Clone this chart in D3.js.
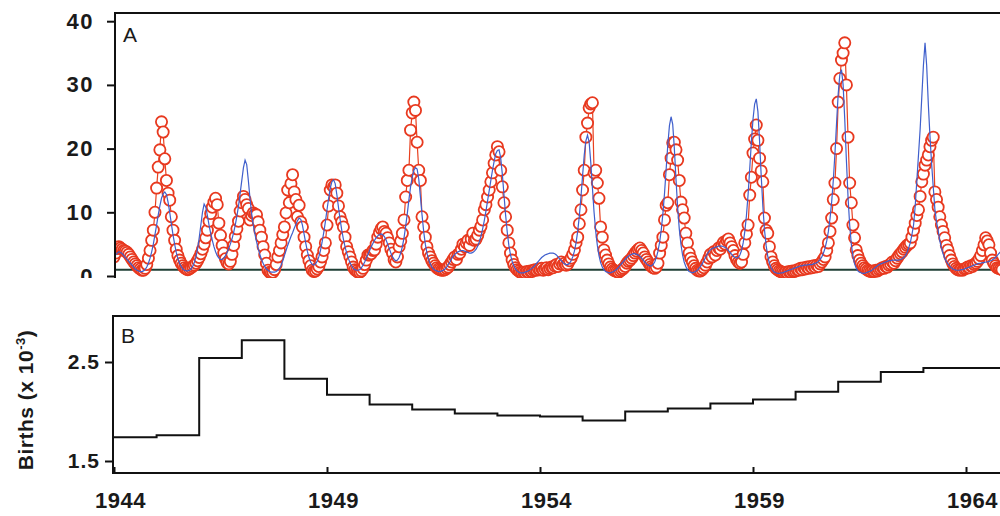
<!DOCTYPE html>
<html>
<head>
<meta charset="utf-8">
<script src="https://cdn.jsdelivr.net/npm/d3@7"></script>
<style>
  body { margin: 0; background: #fff; }
  svg text { font-family: "Liberation Sans", Arial, sans-serif; }
</style>
</head>
<body>
<svg id="chart" width="1000" height="516"></svg>
<script>
// years covered, one row of 26 biweekly values per year
const years = d3.range(1944, 1965);

const observed = [
  [3.0, 3.6, 4.3, 4.6, 4.4, 4.2, 4.0, 3.9, 3.7, 3.4, 3.0, 2.6, 2.2, 1.9, 1.6, 1.3, 1.1, 0.9, 0.9, 1.2, 1.8, 2.8, 4.0, 5.6, 7.2, 10.0],
  [13.8, 17.1, 19.8, 24.2, 22.6, 18.4, 15.0, 13.0, 11.9, 9.3, 7.2, 5.6, 4.2, 3.2, 2.5, 2.0, 1.6, 1.3, 1.1, 1.0, 1.1, 1.3, 1.5, 1.7, 2.0, 2.4],
  [2.9, 3.5, 4.2, 5.0, 6.0, 7.2, 8.6, 9.8, 10.8, 11.6, 12.2, 11.2, 8.3, 6.4, 4.8, 3.6, 2.7, 2.1, 1.9, 2.3, 3.4, 4.8, 6.2, 7.4, 8.6, 10.2],
  [11.5, 12.5, 12.0, 11.2, 10.6, 8.8, 9.5, 9.9, 9.7, 9.6, 8.5, 7.2, 6.1, 4.6, 3.3, 2.0, 0.9, 0.6, 0.5, 0.6, 1.0, 1.8, 3.0, 4.0, 5.2, 6.5],
  [7.7, 9.9, 13.5, 11.5, 14.5, 15.9, 13.2, 12.0, 9.3, 11.1, 8.5, 7.7, 6.1, 4.6, 3.3, 2.4, 1.6, 0.9, 0.7, 0.8, 1.1, 1.5, 2.2, 3.0, 4.0, 5.2],
  [8.0, 11.0, 13.5, 14.3, 14.0, 14.3, 13.0, 11.0, 9.3, 8.5, 7.7, 6.1, 4.6, 3.8, 3.0, 2.2, 1.4, 1.0, 0.8, 0.6, 0.6, 0.8, 1.2, 1.8, 2.5, 3.3],
  [3.3, 3.5, 4.0, 4.1, 5.0, 6.1, 6.8, 7.4, 7.7, 7.0, 6.7, 6.0, 5.2, 4.2, 3.6, 2.5, 2.2, 3.0, 4.6, 5.5, 6.7, 8.8, 12.4, 15.0, 16.6, 22.9],
  [25.6, 27.3, 26.0, 21.0, 16.6, 15.0, 9.3, 7.7, 6.1, 4.6, 3.6, 3.0, 2.4, 2.0, 1.6, 1.3, 1.1, 1.0, 0.9, 0.9, 1.0, 1.2, 1.4, 1.8, 2.2, 2.6],
  [3.0, 2.6, 3.4, 3.6, 4.2, 5.0, 4.6, 5.2, 5.6, 4.8, 5.8, 6.7, 5.6, 5.8, 6.4, 7.2, 7.8, 8.8, 10.4, 11.2, 12.4, 13.5, 14.8, 16.2, 17.7, 19.0],
  [20.3, 19.5, 16.6, 14.0, 11.5, 9.3, 7.2, 5.2, 3.6, 2.5, 1.8, 1.3, 1.0, 0.8, 0.6, 0.5, 0.6, 0.5, 0.7, 0.6, 0.8, 0.7, 0.9, 1.0, 0.9, 1.1],
  [1.0, 1.2, 0.9, 1.1, 1.3, 1.0, 1.2, 1.4, 1.3, 1.6, 1.8, 1.5, 1.9, 2.2, 1.8, 2.0, 1.7, 1.9, 2.4, 2.8, 3.4, 4.1, 5.2, 6.1, 8.2, 10.4],
  [13.5, 16.6, 21.8, 24.0, 26.4, 27.0, 27.2, 16.2, 16.6, 14.6, 12.2, 7.7, 6.1, 4.1, 3.3, 2.5, 1.9, 1.4, 1.1, 0.9, 0.8, 0.7, 0.6, 0.8, 1.0, 1.2],
  [1.5, 2.0, 2.3, 2.5, 2.8, 3.2, 3.6, 3.9, 4.2, 4.4, 4.0, 3.6, 3.0, 2.6, 2.2, 1.8, 1.5, 1.3, 1.2, 1.4, 2.0, 3.6, 4.8, 6.1, 8.8, 11.1],
  [11.5, 15.9, 18.5, 20.9, 21.0, 19.8, 18.2, 15.0, 11.6, 10.4, 9.1, 6.7, 5.2, 3.6, 2.8, 2.2, 1.6, 1.2, 0.9, 0.8, 0.8, 1.0, 1.3, 1.7, 2.2, 2.8],
  [3.4, 3.0, 3.8, 3.3, 4.0, 4.4, 4.2, 4.8, 5.3, 5.0, 5.6, 5.8, 5.2, 4.6, 4.0, 3.2, 2.6, 2.2, 2.0, 2.2, 3.4, 5.2, 6.6, 8.0, 12.7, 15.5],
  [19.3, 21.5, 23.7, 21.3, 18.5, 16.5, 14.8, 9.1, 7.2, 6.7, 4.6, 3.0, 2.2, 1.6, 1.2, 1.0, 0.8, 0.7, 0.6, 0.5, 0.6, 0.5, 0.7, 0.6, 0.8, 0.7],
  [0.8, 1.0, 0.9, 1.2, 1.0, 1.3, 1.1, 1.4, 1.2, 1.5, 1.3, 1.6, 1.4, 1.7, 1.5, 1.9, 2.2, 2.6, 3.0, 4.0, 5.2, 7.0, 9.1, 12.0, 14.6, 20.0],
  [27.3, 31.0, 33.9, 35.0, 36.6, 30.0, 21.8, 14.6, 11.5, 8.0, 6.0, 4.1, 3.2, 2.5, 2.0, 1.6, 1.3, 1.1, 0.9, 0.8, 0.7, 0.8, 0.7, 0.9, 0.8, 1.0],
  [1.1, 1.3, 1.2, 1.5, 1.4, 1.7, 1.9, 2.2, 2.0, 2.4, 2.8, 3.2, 3.5, 3.8, 4.2, 4.5, 4.8, 5.0, 5.2, 6.1, 7.2, 8.3, 9.5, 10.4, 12.5, 14.8],
  [16.0, 17.4, 18.2, 19.0, 20.3, 21.3, 21.8, 13.2, 12.0, 10.8, 9.3, 8.0, 7.0, 6.0, 4.8, 4.1, 3.2, 2.5, 1.9, 1.5, 1.2, 1.0, 0.9, 1.0, 0.9, 1.1],
  [1.2, 1.4, 1.3, 1.6, 1.5, 1.8, 2.0, 2.3, 2.7, 3.2, 4.0, 4.9, 6.0, 5.5, 4.9, 3.6, 2.5, 2.0, 1.6, 1.3, 1.2, 1.1, 1.0]
];

const model = [
  [3.0, 3.3, 3.6, 3.8, 3.7, 3.5, 3.2, 2.9, 2.6, 2.3, 2.0, 1.7, 1.4, 1.1, 0.9, 0.8, 0.7, 0.7, 0.8, 1.0, 1.4, 2.0, 2.8, 3.8, 5.0, 6.5],
  [8.0, 9.6, 11.0, 12.2, 12.9, 13.2, 12.8, 11.6, 10.0, 8.2, 6.5, 5.0, 3.7, 2.7, 2.0, 1.5, 1.1, 0.9, 0.8, 0.8, 0.9, 1.1, 1.5, 2.1, 3.0, 4.2],
  [6.0, 8.0, 10.0, 11.3, 10.8, 9.5, 8.0, 6.7, 5.6, 4.6, 3.8, 3.2, 2.8, 2.6, 2.6, 2.8, 3.2, 3.7, 4.3, 5.0, 5.8, 6.8, 8.0, 9.4, 11.0, 13.0],
  [15.0, 17.0, 18.2, 17.5, 15.0, 12.2, 9.8, 8.0, 6.6, 5.4, 4.3, 3.4, 2.6, 2.0, 1.5, 1.1, 0.9, 0.7, 0.6, 0.6, 0.6, 0.7, 0.9, 1.2, 1.7, 2.4],
  [3.2, 4.0, 4.8, 5.5, 6.2, 6.8, 7.5, 8.1, 8.7, 9.1, 8.9, 8.0, 6.6, 5.2, 3.9, 2.9, 2.2, 1.8, 1.7, 1.9, 2.3, 3.0, 4.0, 5.3, 6.8, 8.5],
  [10.4, 12.2, 13.8, 14.8, 15.1, 14.5, 12.8, 10.8, 8.9, 7.2, 5.8, 4.6, 3.6, 2.8, 2.1, 1.6, 1.2, 1.0, 0.9, 0.9, 1.0, 1.3, 1.7, 2.2, 2.8, 3.4],
  [4.0, 4.6, 5.1, 5.6, 6.0, 6.3, 6.5, 6.6, 6.5, 6.2, 5.7, 5.0, 4.3, 3.6, 3.0, 2.6, 2.4, 2.5, 2.9, 3.6, 4.6, 6.0, 7.8, 9.8, 12.0, 14.0],
  [15.5, 16.6, 17.0, 16.8, 15.2, 12.5, 9.6, 7.0, 5.0, 3.6, 2.6, 1.9, 1.4, 1.1, 0.9, 0.8, 0.7, 0.7, 0.8, 0.9, 1.1, 1.4, 1.8, 2.2, 2.7, 3.1],
  [3.4, 3.6, 3.8, 3.9, 4.0, 4.0, 3.9, 3.8, 3.7, 3.6, 3.6, 3.7, 3.9, 4.2, 4.7, 5.4, 6.3, 7.4, 8.7, 10.2, 11.8, 13.4, 15.0, 16.6, 18.0, 19.2],
  [19.7, 19.8, 18.6, 16.0, 12.8, 9.6, 6.9, 4.8, 3.3, 2.3, 1.6, 1.1, 0.8, 0.6, 0.5, 0.5, 0.5, 0.6, 0.7, 0.8, 1.0, 1.2, 1.4, 1.7, 2.0, 2.3],
  [2.6, 2.9, 3.1, 3.3, 3.4, 3.5, 3.6, 3.6, 3.6, 3.5, 3.3, 3.0, 2.7, 2.4, 2.1, 1.9, 1.8, 1.8, 2.0, 2.4, 3.0, 3.9, 5.2, 7.0, 9.4, 12.4],
  [15.8, 19.0, 21.2, 22.1, 21.0, 17.8, 13.8, 10.0, 7.0, 4.8, 3.2, 2.1, 1.4, 1.0, 0.7, 0.6, 0.5, 0.5, 0.6, 0.7, 0.9, 1.1, 1.4, 1.7, 2.0, 2.3],
  [2.6, 2.9, 3.1, 3.3, 3.4, 3.5, 3.5, 3.4, 3.3, 3.1, 2.8, 2.5, 2.2, 1.9, 1.7, 1.6, 1.6, 1.8, 2.2, 2.9, 3.9, 5.3, 7.2, 9.8, 13.0, 16.8],
  [20.6, 23.6, 25.0, 23.8, 20.0, 15.2, 10.8, 7.4, 5.0, 3.3, 2.2, 1.5, 1.0, 0.7, 0.6, 0.5, 0.6, 0.7, 0.9, 1.2, 1.5, 1.9, 2.4, 2.9, 3.4, 3.8],
  [4.1, 4.3, 4.4, 4.5, 4.6, 4.7, 4.7, 4.7, 4.6, 4.5, 4.3, 4.0, 3.7, 3.4, 3.1, 2.9, 2.8, 2.9, 3.3, 4.0, 5.2, 7.0, 9.5, 12.8, 16.8, 21.0],
  [24.6, 27.0, 27.8, 25.8, 21.2, 15.8, 11.0, 7.3, 4.8, 3.1, 2.0, 1.3, 0.9, 0.6, 0.5, 0.4, 0.4, 0.5, 0.5, 0.6, 0.7, 0.8, 0.9, 1.0, 1.1, 1.2],
  [1.3, 1.4, 1.5, 1.6, 1.6, 1.7, 1.7, 1.7, 1.8, 1.8, 1.8, 1.9, 2.0, 2.1, 2.3, 2.6, 3.0, 3.6, 4.4, 5.5, 7.0, 9.0, 11.6, 15.0, 19.2, 24.0],
  [28.6, 31.6, 32.4, 30.0, 24.6, 18.2, 12.4, 8.0, 5.0, 3.1, 1.9, 1.2, 0.8, 0.6, 0.5, 0.4, 0.4, 0.5, 0.6, 0.7, 0.8, 1.0, 1.2, 1.4, 1.6, 1.8],
  [1.9, 2.0, 2.1, 2.2, 2.3, 2.4, 2.4, 2.5, 2.5, 2.5, 2.5, 2.5, 2.6, 2.7, 2.9, 3.2, 3.7, 4.4, 5.2, 6.5, 8.0, 11.0, 15.0, 19.0, 23.0, 28.0],
  [33.0, 36.6, 33.0, 27.0, 22.0, 17.7, 14.0, 10.5, 8.5, 7.2, 5.5, 4.4, 3.5, 2.8, 2.3, 1.9, 1.6, 1.3, 1.1, 1.0, 0.9, 0.9, 0.9, 1.0, 1.0, 1.1],
  [1.2, 1.3, 1.4, 1.5, 1.6, 1.7, 1.8, 1.9, 2.0, 2.0, 2.1, 2.1, 2.2, 2.2, 2.3, 2.4, 2.5, 2.7, 2.9, 3.2, 3.5, 3.8]
];

// annual births (x 10^-3), one value per year
const births = [1.74, 1.76, 2.54, 2.72, 2.33, 2.17, 2.07, 2.02, 1.98, 1.96, 1.95, 1.91, 2.00, 2.03, 2.08, 2.12, 2.20, 2.30, 2.40, 2.44, 2.44];

const xTicks = [1944, 1949, 1954, 1959, 1964];
const yTicksA = [0, 10, 20, 30, 40];
const yTicksB = [1.5, 2.5];
const baseLevel = 1;

const svg = d3.select("#chart");

const x = d3.scaleLinear().domain([1944, 1964]).range([114, 966]);
const yA = d3.scaleLinear().domain([0, 40]).range([276, 21.2]);
const yB = d3.scaleLinear().domain([1.5, 2.5]).range([461, 362]);

const flatten = (rows) => rows.flatMap((row, i) => row.map((v, k) => ({ t: years[i] + k / 26, v })));
const obsPts = flatten(observed);
const modPts = flatten(model);

// ---- panel A (cropped at the bottom like the scan) ----
svg.append("clipPath").attr("id", "clipA")
  .append("rect").attr("x", 0).attr("y", 0).attr("width", 1000).attr("height", 278);
svg.append("clipPath").attr("id", "plotA")
  .append("rect").attr("x", 116).attr("y", 14).attr("width", 890).attr("height", 264);

const panelA = svg.append("g").attr("clip-path", "url(#clipA)");
const plotA = panelA.append("g").attr("clip-path", "url(#plotA)");

plotA.append("line")
  .attr("x1", 115).attr("x2", 1000)
  .attr("y1", yA(baseLevel)).attr("y2", yA(baseLevel))
  .attr("stroke", "#1f3f35").attr("stroke-width", 2);

const lineA = d3.line().x((d) => x(d.t)).y((d) => yA(d.v));

plotA.append("path").datum(obsPts)
  .attr("d", lineA).attr("fill", "none")
  .attr("stroke", "#e8401f").attr("stroke-width", 1.2);

plotA.selectAll("circle").data(obsPts).join("circle")
  .attr("cx", (d) => x(d.t)).attr("cy", (d) => yA(d.v)).attr("r", 5.6)
  .attr("fill", "#fff").attr("stroke", "#e8391f").attr("stroke-width", 1.8);

plotA.append("path").datum(modPts)
  .attr("d", lineA).attr("fill", "none")
  .attr("stroke", "#3f5fcc").attr("stroke-width", 1.2);

const axisA = panelA.append("g").attr("transform", "translate(115,0)")
  .call(d3.axisLeft(yA).tickValues(yTicksA).tickSize(8).tickPadding(13).tickFormat(d3.format("d")));
axisA.select(".domain").remove();
axisA.selectAll(".tick line").attr("stroke", "#111").attr("stroke-width", 2);
axisA.selectAll("text").attr("font-size", 22).attr("font-weight", "bold")
  .attr("letter-spacing", 1.5).attr("fill", "#1a1a1a");

panelA.append("path")
  .attr("d", "M115,300V13H1005")
  .attr("fill", "none").attr("stroke", "#111").attr("stroke-width", 2);

panelA.append("text").attr("x", 123).attr("y", 42)
  .attr("font-size", 21).attr("fill", "#1a1a1a").text("A");

// ---- panel B ----
const panelB = svg.append("g");
const birthPts = births.map((v, i) => ({ t: years[i], v })).concat([{ t: 1965, v: births[births.length - 1] }]);

panelB.append("clipPath").attr("id", "plotB")
  .append("rect").attr("x", 113).attr("y", 316).attr("width", 890).attr("height", 157);

panelB.append("path").datum(birthPts)
  .attr("clip-path", "url(#plotB)")
  .attr("d", d3.line().x((d) => x(d.t)).y((d) => yB(d.v)).curve(d3.curveStepAfter))
  .attr("fill", "none").attr("stroke", "#111").attr("stroke-width", 2);

const axisBx = panelB.append("g").attr("transform", "translate(0,473)")
  .call(d3.axisBottom(x).tickValues(xTicks).tickSizeInner(-6).tickSizeOuter(0).tickPadding(19).tickFormat(d3.format("d")));
axisBx.select(".domain").remove();
axisBx.selectAll(".tick line").attr("stroke", "#111").attr("stroke-width", 2);
axisBx.selectAll("text").attr("dx", 6).attr("font-size", 22).attr("font-weight", "bold")
  .attr("letter-spacing", 0.5).attr("fill", "#1a1a1a");

const axisBy = panelB.append("g").attr("transform", "translate(113,0)")
  .call(d3.axisLeft(yB).tickValues(yTicksB).tickSize(8).tickPadding(5).tickFormat(d3.format(".1f")));
axisBy.select(".domain").remove();
axisBy.selectAll(".tick line").attr("stroke", "#111").attr("stroke-width", 2);
axisBy.selectAll("text").attr("font-size", 21).attr("font-weight", "bold")
  .attr("letter-spacing", 1).attr("fill", "#1a1a1a");

panelB.append("rect")
  .attr("x", 113).attr("y", 316).attr("width", 900).attr("height", 157)
  .attr("fill", "none").attr("stroke", "#111").attr("stroke-width", 2);

panelB.append("text").attr("x", 121).attr("y", 343)
  .attr("font-size", 21).attr("fill", "#1a1a1a").text("B");

const ylab = panelB.append("text")
  .attr("transform", "translate(33,400) rotate(-90)")
  .attr("text-anchor", "middle").attr("font-size", 21).attr("font-weight", "bold")
  .attr("letter-spacing", 0.5).attr("fill", "#1a1a1a");
ylab.append("tspan").text("Births (x 10");
ylab.append("tspan").attr("font-size", 13).attr("dy", -8).text("-3");
ylab.append("tspan").attr("dy", 8).text(")");
</script>
</body>
</html>
